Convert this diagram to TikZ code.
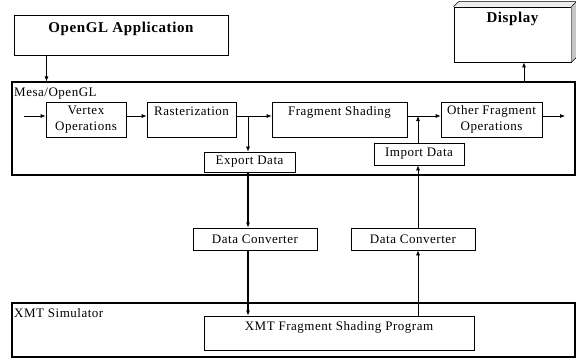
\documentclass[tikz,border=0pt]{standalone}
\usepackage{fontspec}
\setmainfont[LetterSpace=4]{Liberation Serif}
\usetikzlibrary{arrows.meta}

\begin{document}
\begin{tikzpicture}[x=1pt,y=-1pt,
    box/.style={draw, line width=0.7pt, inner sep=0pt, align=center,
      font=\fontsize{13}{15.5}\selectfont},
    topbox/.style={box, text height=13pt, text depth=22pt},
    title/.style={draw, line width=0.8pt, inner sep=0pt,
      font=\fontsize{15}{18}\selectfont\bfseries},
    frame/.style={draw, line width=1.1pt, inner sep=0pt},
    arr/.style={-{Latex[length=5pt,width=4pt]}, line width=0.7pt}]
    \useasboundingbox (0,0) rectangle (576,360);
    % Application and display
    \node[title, minimum width=214pt, text height=17pt, text depth=23pt] (app) at (121,35) {OpenGL Application};
    \node[title, minimum width=117pt, text height=15pt, text depth=40pt] (disp) at (512.5,34.5) {Display};
    \fill[gray!15] (disp.north west) -- ++(5,-5) -- ([shift={(5,-5)}]disp.north east) -- (disp.north east) -- cycle;
    \fill[gray!45] (disp.north east) -- ++(5,-5) -- ([shift={(5,-5)}]disp.south east) -- (disp.south east) -- cycle;
    \draw[line width=0.6pt] (disp.north west) -- ++(5,-5) -- ([shift={(5,-5)}]disp.north east) -- (disp.north east)
      ([shift={(5,-5)}]disp.north east) -- ([shift={(5,-5)}]disp.south east) -- (disp.south east);
    % Mesa/OpenGL
    \node[frame, minimum width=563pt, minimum height=93pt] (mesa) at (293.5,128.5) {};
    \node[anchor=base west, inner sep=0pt, font=\fontsize{13}{15.5}\selectfont] (mesalbl) at (14,96) {Mesa/OpenGL};
    \node[box, minimum width=80pt, minimum height=35pt] (vertex) at (86,119.5) {Vertex\\Operations};
    \node[topbox, minimum width=89pt] (raster) at (191.5,119.5) {Rasterization};
    \node[topbox, minimum width=135pt] (frag) at (339.5,119.5) {Fragment Shading};
    \node[box, minimum width=101pt, minimum height=35pt] (other) at (491.5,119.5) {Other Fragment\\Operations};
    \node[box, minimum width=91pt, minimum height=20pt] (export) at (249.5,162) {Export Data};
    \node[box, minimum width=90pt, minimum height=22pt] (import) at (419,154) {Import Data};
    % Converters
    \node[box, minimum width=124pt, minimum height=22pt] (dc1) at (255,239) {Data Converter};
    \node[box, minimum width=124pt, minimum height=22pt] (dc2) at (413,239) {Data Converter};
    % XMT Simulator
    \node[frame, minimum width=563pt, minimum height=54pt] (xmt) at (293.5,330) {};
    \node[anchor=base west, inner sep=0pt, font=\fontsize{13}{15.5}\selectfont] (xmtlbl) at (14,317) {XMT Simulator};
    \node[box, minimum width=270pt, text height=14pt, text depth=20pt] (prog) at (339,333) {XMT Fragment Shading Program};
    % Arrows
    \coordinate (in) at (24,116);
    \coordinate (out) at (565,116);
    \coordinate (rsplit) at (248,116);
    \coordinate (fjoin) at (418,116);
    \coordinate (dup) at ([xshift=11.5pt]disp.south);
    \draw[arr] ([xshift=33pt]app.south west) -- ([xshift=35pt]mesa.north west);
    \draw[arr] (mesa.north -| dup) -- (dup);
    \draw[arr] (in) -- ([yshift=3.5pt]vertex.west);
    \draw[arr] ([yshift=3.5pt]vertex.east) -- ([yshift=3.5pt]raster.west);
    \draw[arr] ([yshift=3.5pt]raster.east) -- ([yshift=3.5pt]frag.west);
    \draw[arr] (rsplit) -- (rsplit |- export.north);
    \draw[arr] ([yshift=3.5pt]frag.east) -- ([yshift=3.5pt]other.west);
    \draw[arr] (import.north -| fjoin) -- (fjoin);
    \draw[arr] ([yshift=3.5pt]other.east) -- (out);
    \draw[arr, line width=1.2pt] (export.south -| rsplit) -- (dc1.north -| rsplit);
    \draw[arr, line width=1.2pt] (dc1.south -| rsplit) -- (prog.north -| rsplit);
    \draw[arr] (prog.north -| fjoin) -- (dc2.south -| fjoin);
    \draw[arr] (dc2.north -| fjoin) -- (import.south -| fjoin);
\end{tikzpicture}
\end{document}
